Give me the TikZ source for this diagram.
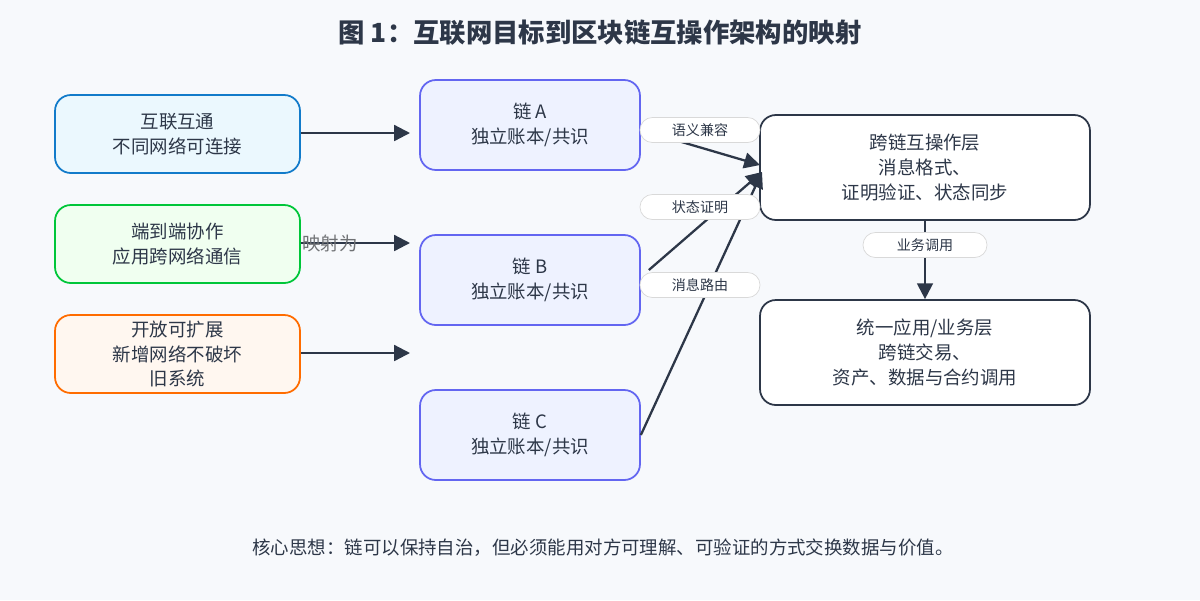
\documentclass[tikz,border=0pt]{standalone}
\usepackage{fontspec}
\setmainfont{Noto Sans CJK SC}
\usetikzlibrary{arrows.meta}
\definecolor{bg}{HTML}{F7F9FC}
\definecolor{ink}{HTML}{2D3748}
\definecolor{chb}{HTML}{6366F1}
\definecolor{chf}{HTML}{EEF2FF}
\begin{document}
\begin{tikzpicture}[x=0.02cm,y=-0.02cm,
  box/.style={draw,rounded corners=9pt,line width=1pt,align=center,font=\fontsize{10.5pt}{14pt}\selectfont,text=ink,inner sep=0pt},
  pill/.style={draw=gray!30,fill=white,rounded corners=7pt,font=\fontsize{8pt}{10pt}\selectfont,text=ink,minimum width=2.4cm,minimum height=0.5cm},
  arr/.style={draw=ink,line width=1.3pt,-{Triangle[length=9pt,width=9pt]}}]
\fill[bg] (0,0) rectangle (1200,600);
\node[font=\bfseries\fontsize{15pt}{18pt}\selectfont,text=ink] (title) at (600,33) {图 1：互联网目标到区块链互操作架构的映射};
\node[box,fill=cyan!8,draw=cyan!60!blue,minimum width=4.9cm,minimum height=1.56cm] (g1) at (177.5,134) {互联互通\\不同网络可连接};
\node[box,fill=green!6,draw=green!55!teal,minimum width=4.9cm,minimum height=1.56cm] (g2) at (177.5,244) {端到端协作\\应用跨网络通信};
\node[box,fill=orange!6,draw=orange!85!red,minimum width=4.9cm,minimum height=1.56cm] (g3) at (177.5,354) {开放可扩展\\新增网络不破坏\\旧系统};
\tikzset{chain/.style={box,fill=chf,draw=chb,minimum width=4.4cm,minimum height=1.8cm}}
\node[chain] (ca) at (530,125) {链 A\\独立账本/共识};
\node[chain] (cb) at (530,280) {链 B\\独立账本/共识};
\node[chain] (cc) at (530,435) {链 C\\独立账本/共识};
\node[box,fill=white,draw=ink,minimum width=6.6cm,minimum height=2.1cm] (x) at (925,167.5) {跨链互操作层\\消息格式、\\证明验证、状态同步};
\node[box,fill=white,draw=ink,minimum width=6.6cm,minimum height=2.1cm] (u) at (925,352.5) {统一应用/业务层\\跨链交易、\\资产、数据与合约调用};
\coordinate (t1) at (410,133);
\coordinate (t2) at (410,243);
\coordinate (t3) at (410,353);
\draw[arr] (g1.east|-t1) -- (t1);
\draw[arr] (g2.east|-t2) -- (t2);
\draw[arr] (g3.east|-t3) -- (t3);
\node[text=gray!80!ink,font=\fontsize{10.5pt}{12pt}\selectfont] (m) at (330,243) {映射为};
\coordinate (xa) at (760,165);
\coordinate (xb) at (762,172);
\draw[arr] (ca.east|-0,130) -- (xa);
\draw[arr] (cb.east|-0,270) ++(8,0) -- (xb);
\draw[arr] (cc.east) -- (xb);
\node[pill] (p1) at (700,130) {语义兼容};
\node[pill] (p2) at (700,207) {状态证明};
\node[pill] (p3) at (700,285) {消息路由};
\draw[arr] (x.south) -- (u.north);
\node[pill,minimum width=2.48cm] (p4) at (925,245) {业务调用};
\node[font=\fontsize{10.5pt}{12pt}\selectfont,text=ink] (foot) at (603,548) {核心思想：链可以保持自治，但必须能用对方可理解、可验证的方式交换数据与价值。};
\end{tikzpicture}
\end{document}
